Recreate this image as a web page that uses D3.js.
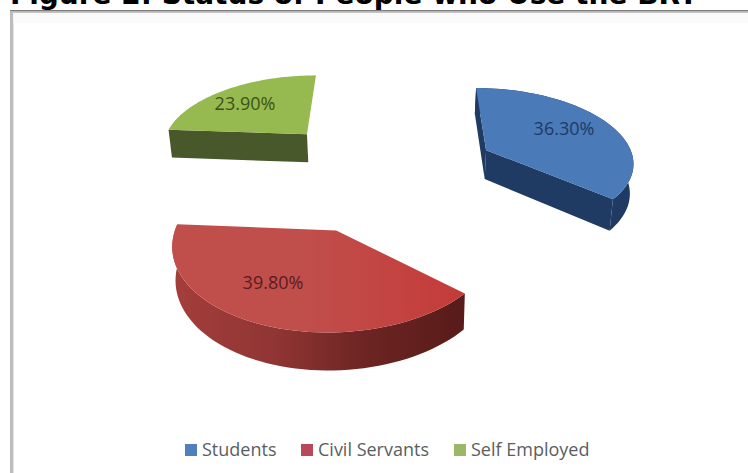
<!DOCTYPE html>
<html>
<head>
<meta charset="utf-8">
<script src="https://cdn.jsdelivr.net/npm/d3@7/dist/d3.min.js"></script>
<style>
  html, body { margin: 0; padding: 0; background: #fff; overflow: hidden; }
  svg { display: block; }
</style>
</head>
<body>
<svg id="chart" width="748" height="473"></svg>
<script>
// Chart content
const titleText = "Figure 2: Status of People who Use the BRT";
const categories = ["Students", "Civil Servants", "Self Employed"];
const shares = [36.3, 39.8, 23.9];

// Appearance of each slice: top face, side wall, and the dark end of the wall gradient
const topColors = ["#4a7ab8", "#c04f4c", "#97ba50"];
const wallColors = ["#1f3a63", "#a33e3c", "#49582a"];
const wallDarkColors = ["#1a3358", "#571b19", "#46552a"];
const legendColors = ["#4f7fbc", "#b9485a", "#9bb868"];

// Offset of each exploded slice on the pie plane (x to the right, z away from the viewer)
const sliceOffsets = [[0.644, 0.316], [-0.345, -0.698], [-0.612, 0.551]];
const sliceRadii = [1, 0.98, 1];
// Which side walls face the viewer on each slice
const showStartFace = [true, false, true];
const showEndFace = [true, false, false];
const showOuterWall = [true, true, false];
// Label anchors on the screen
const labelAnchors = [[564, 135], [273, 289], [245, 110]];
const labelColors = ["#1e3a66", "#5c1b20", "#3c5216"];

// Perspective camera fitted to the tilt of the pie
const camera = { vx: 393, vy: -428, a: 0.001664, b: 0.000208, c: 0.25, drop: 0.05, shrink: 0.015 };

function project(x, z) {
  const dist = 1 / (camera.a + camera.b * z);
  return [camera.vx + camera.c * x * dist, camera.vy + dist];
}
function lower([sx, sy]) {
  return [sx - camera.shrink * (sx - camera.vx), sy + camera.drop * (sy - camera.vy)];
}

const svg = d3.select("#chart");
const line = d3.line();
const defs = svg.append("defs");

// Frame of the chart area
svg.append("rect").attr("x", 10).attr("y", 10).attr("width", 738).attr("height", 1.6).attr("fill", "#7d7d7d");
svg.append("rect").attr("x", 10).attr("y", 11.6).attr("width", 738).attr("height", 1.4).attr("fill", "#c4c4c4");
svg.append("rect").attr("x", 10).attr("y", 11).attr("width", 3.4).attr("height", 462).attr("fill", "#bdbdbd");
svg.append("rect").attr("x", 13.4).attr("y", 13).attr("width", 734.6).attr("height", 10).attr("fill", "#fafafa");

svg.append("text")
  .attr("x", 10).attr("y", 4)
  .attr("font-family", "'DejaVu Sans'").attr("font-weight", 700).attr("font-size", 28)
  .attr("fill", "#000")
  .text(titleText);

// Angles run clockwise from the far side of the pie
const arcs = d3.pie().sort(null).value(d => d)(shares);
const angleSteps = d3.range(0, 61);

const redWall = defs.append("linearGradient")
  .attr("id", "redWall").attr("gradientUnits", "userSpaceOnUse")
  .attr("x1", 175).attr("x2", 465).attr("y1", 0).attr("y2", 0);
redWall.append("stop").attr("offset", 0).attr("stop-color", wallColors[1]);
redWall.append("stop").attr("offset", 0.35).attr("stop-color", "#8f3533");
redWall.append("stop").attr("offset", 0.65).attr("stop-color", "#6d2523");
redWall.append("stop").attr("offset", 1).attr("stop-color", wallDarkColors[1]);

const redTop = defs.append("linearGradient")
  .attr("id", "redTop").attr("gradientUnits", "userSpaceOnUse")
  .attr("x1", 300).attr("x2", 465).attr("y1", 0).attr("y2", 0);
redTop.append("stop").attr("offset", 0).attr("stop-color", topColors[1]);
redTop.append("stop").attr("offset", 1).attr("stop-color", "#c43b39");

const pie = svg.append("g");

arcs.forEach((slice, i) => {
  const [ox, oz] = sliceOffsets[i];
  const r = sliceRadii[i];
  const angle = d3.scaleLinear().domain([0, 60]).range([slice.startAngle, slice.endAngle]);
  const rim = angleSteps.map(k => project(ox + r * Math.sin(angle(k)), oz + r * Math.cos(angle(k))));
  const apex = project(ox, oz);
  const rimLow = rim.map(lower);
  const apexLow = lower(apex);

  // Side walls first, the top face over them
  if (showOuterWall[i]) {
    pie.append("path").attr("fill", i === 1 ? "url(#redWall)" : wallColors[i])
      .attr("d", line(rim.concat(rimLow.slice().reverse())) + "Z");
  }
  if (showStartFace[i]) {
    pie.append("path").attr("fill", wallColors[i])
      .attr("d", line([apex, rim[0], rimLow[0], apexLow]) + "Z");
  }
  if (showEndFace[i]) {
    pie.append("path").attr("fill", wallColors[i])
      .attr("d", line([apex, rim[60], rimLow[60], apexLow]) + "Z");
  }
  pie.append("path").attr("fill", i === 1 ? "url(#redTop)" : topColors[i])
    .attr("d", line([apex].concat(rim)) + "Z");
});

// Value labels on the top faces
svg.append("g")
  .selectAll("text").data(shares).join("text")
  .attr("x", (d, i) => labelAnchors[i][0])
  .attr("y", (d, i) => labelAnchors[i][1])
  .attr("text-anchor", "middle")
  .attr("font-family", "'Open Sans'").attr("font-size", 18)
  .attr("fill", (d, i) => labelColors[i])
  .text(d => d.toFixed(2) + "%");

// Legend row along the bottom
const legendSwatchX = [185, 301, 454];
const legend = svg.append("g");
categories.forEach((name, i) => {
  legend.append("rect")
    .attr("x", legendSwatchX[i]).attr("y", 444).attr("width", 12).attr("height", 12)
    .attr("fill", legendColors[i]);
  legend.append("text")
    .attr("x", legendSwatchX[i] + 17).attr("y", 456)
    .attr("font-family", "'Open Sans'").attr("font-size", 18)
    .attr("fill", "#595e62")
    .text(name);
});
</script>
</body>
</html>
